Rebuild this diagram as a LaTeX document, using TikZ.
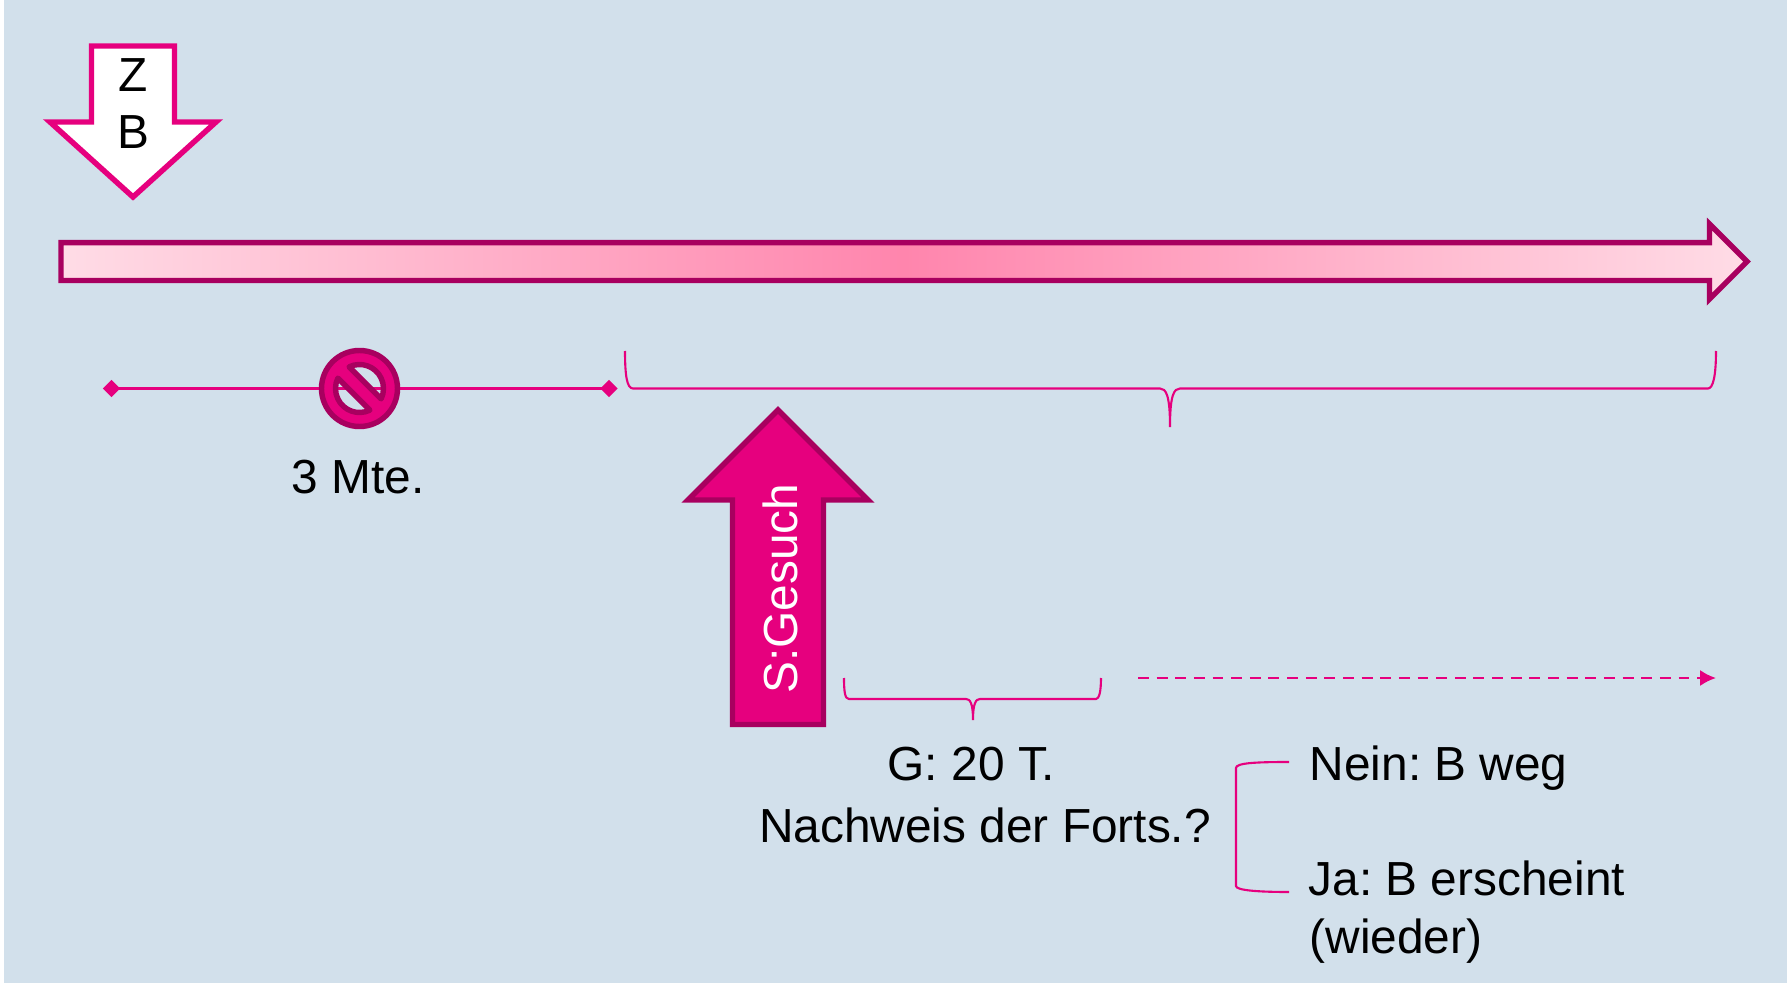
\documentclass[tikz,border=0pt]{standalone}
\usepackage{fontspec}
\setmainfont{Liberation Sans}
\definecolor{pg}{HTML}{D2E0EB}
\definecolor{mg}{HTML}{E6007E}
\definecolor{dm}{HTML}{A8005F}
\definecolor{pale}{HTML}{FFDCE6}
\definecolor{peak}{HTML}{FF85AD}
\usetikzlibrary{arrows.meta, shapes.geometric}
\tikzset{
    txt/.style={inner sep=0pt, font=\fontsize{13.6}{16.5}\selectfont\frenchspacing},
    hair/.style={draw=mg, line width=0.6pt},
    big/.style={draw=dm, line width=1.55pt, miter limit=10},
    tick/.style={diamond, fill=mg, inner sep=0pt, minimum size=0.18cm}
}

\begin{document}
\begin{tikzpicture}[x=0.01cm, y=-0.01cm]
    \useasboundingbox (0,0) rectangle (1787,985);
    \fill [white] (0,0) rectangle (1787,985);
    \fill [pg] (4,0) rectangle (1787,983);

    % time line
    \draw [big, left color=pale, right color=pale, middle color=peak]
        (61,242.7) -- (1709.5,242.7) -- (1709.5,224.1) -- (1747,261.6)
        -- (1709.5,299.1) -- (1709.5,280.5) -- (61,280.5) -- cycle;

    % ZB
    \draw [draw=mg, line width=1.55pt, fill=white, miter limit=10]
        (91.5,46) -- (174.5,46) -- (174.5,122) -- (216,122) -- (133,197)
        -- (50,122) -- (91.5,122) -- cycle;
    \node [txt, anchor=base] (zlabel) at (133,92) {Z};
    \node [txt, anchor=base] (blabel) at (133,149) {B};

    % 3 Mte
    \coordinate (hub) at (359.5,388.5);
    \node [tick] (mstart) at (111.5,388.5) {};
    \node [tick] (mstop) at (609,388.5) {};
    \draw [mg, line width=0.7pt] (mstart.center) -- (mstop.center);
    \draw [draw=dm, fill=mg, line width=1.55pt, line join=round, even odd rule]
        (hub) circle [radius=38]
        (hub) ++(-115.5:24) arc [start angle=-115.5, end angle=25.5, radius=24] -- cycle
        (hub) ++(64.5:24) arc [start angle=64.5, end angle=205.5, radius=24] -- cycle;
    \node [txt, anchor=base] (mte) at (358,494) {3 Mte.};

    % long brace
    \draw [hair] (625,351) .. controls (625,376) and (627,388.5) .. (633,388.5)
        -- (1160,388.5) .. controls (1166,388.5) and (1170,395) .. (1170,427)
        .. controls (1170,395) and (1174,388.5) .. (1180,388.5)
        -- (1708,388.5) .. controls (1713,388.5) and (1716,376) .. (1716,351);

    % S:Gesuch
    \draw [big, fill=mg]
        (732.5,724.5) -- (823.5,724.5) -- (823.5,500) -- (868,500) -- (778,410)
        -- (688,500) -- (732.5,500) -- cycle;
    \node [txt, text=white, rotate=90, anchor=base] (gesuch) at (797,588.5) {S:Gesuch};

    % short brace
    \draw [hair] (844,678) .. controls (844,692) and (845,699) .. (849,699)
        -- (966,699) .. controls (970,699) and (973,703) .. (973,720)
        .. controls (973,703) and (976,699) .. (980,699)
        -- (1096,699) .. controls (1099,699) and (1101,692) .. (1101,678);

    \coordinate (waitstart) at (1138,678);
    \coordinate (waitend) at (1716,678);
    \draw [mg, line width=0.8pt, dash pattern=on 3.1pt off 2.2pt, -{Latex[length=4.5pt, width=4.6pt]}]
        (waitstart) -- (waitend);

    \node [txt, anchor=base] (frist) at (971.5,780) {G: 20 T.};
    \node [txt, anchor=base] (proof) at (985,842) {Nachweis der Forts.?};

    % answers
    \node [txt, anchor=base west] (nein) at (1309,780) {Nein: B weg};
    \node [txt, anchor=base west] (ja) at (1308,895) {Ja: B erscheint};
    \node [txt, anchor=base west] (wieder) at (1309,953) {(wieder)};
    \coordinate (neintip) at (1289,762);
    \coordinate (jatip) at (1289,892);
    \draw [hair] (neintip) .. controls (1255,762) and (1236,763) .. (1236,768)
        -- (1236,886) .. controls (1236,890) and (1255,892) .. (jatip);
\end{tikzpicture}
\end{document}
